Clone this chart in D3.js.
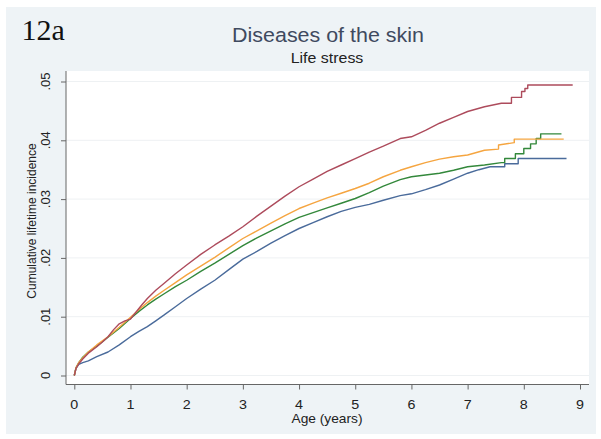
<!DOCTYPE html>
<html>
<head>
<meta charset="utf-8">
<script src="https://cdn.jsdelivr.net/npm/d3@7"></script>
<style>
  body { margin: 0; background: #fff; }
  text { font-family: "Liberation Sans", Arial, sans-serif; }
  text.figlabel { font-family: "Liberation Serif", "Times New Roman", serif; }
</style>
</head>
<body>
<div id="chart"></div>
<script>
// figure texts
var figLabel = "12a";
var chartTitle = "Diseases of the skin";
var chartSubtitle = "Life stress";
var xTitle = "Age (years)";
var yTitle = "Cumulative lifetime incidence";

// tick values / labels
var xTicks = [0, 1, 2, 3, 4, 5, 6, 7, 8, 9];
var yTicks = [0, 0.01, 0.02, 0.03, 0.04, 0.05];
var yTickLabels = ["0", ".01", ".02", ".03", ".04", ".05"];

// cumulative incidence curves, [age, incidence]
var maroonSeries = [[0,0],[0.03,0.0012],[0.08,0.0020],[0.15,0.0028],[0.25,0.0038],[0.4,0.0049],[0.5,0.0057],
  [0.6,0.0066],[0.7,0.0078],[0.8,0.0088],[0.9,0.0093],[1.0,0.0096],[1.1,0.0108],[1.2,0.0120],[1.3,0.0131],
  [1.45,0.0145],[1.6,0.0157],[1.8,0.0173],[2.0,0.0188],[2.25,0.0206],[2.5,0.0222],[2.75,0.0237],[3.0,0.0253],
  [3.25,0.0271],[3.5,0.0288],[3.75,0.0305],[4.0,0.0321],[4.25,0.0334],[4.5,0.0347],[4.75,0.0358],[5.0,0.0369],
  [5.25,0.0380],[5.5,0.0390],[5.8,0.0403],[6.0,0.0406],[6.25,0.0417],[6.5,0.0429],[6.75,0.0439],[7.0,0.0449],
  [7.3,0.0457],[7.6,0.0463],[7.78,0.0463],[7.78,0.0473],[7.96,0.0473],[7.96,0.0483],[8.02,0.0483],[8.02,0.0488],
  [8.07,0.0488],[8.07,0.0494],[8.87,0.0494]];

var orangeSeries = [[0,0],[0.03,0.0013],[0.08,0.0022],[0.15,0.0030],[0.25,0.0040],[0.4,0.0052],[0.6,0.0066],
  [0.8,0.0082],[1.0,0.0099],[1.15,0.0112],[1.3,0.0124],[1.45,0.0135],[1.6,0.0145],[1.8,0.0158],[2.0,0.0171],
  [2.25,0.0186],[2.5,0.0201],[2.75,0.0217],[3.0,0.0233],[3.25,0.0246],[3.5,0.0259],[3.75,0.0272],[4.0,0.0284],
  [4.25,0.0293],[4.5,0.0302],[4.75,0.0310],[5.0,0.0318],[5.25,0.0327],[5.5,0.0338],[5.8,0.0349],[6.0,0.0355],
  [6.25,0.0362],[6.5,0.0368],[6.75,0.0372],[7.0,0.0375],[7.3,0.0383],[7.55,0.0385],[7.55,0.0392],[7.83,0.0396],
  [7.83,0.0402],[8.71,0.0402]];

var greenSeries = [[0,0],[0.03,0.0013],[0.08,0.0022],[0.15,0.0031],[0.25,0.0040],[0.4,0.0050],[0.6,0.0065],
  [0.8,0.0080],[1.0,0.0097],[1.15,0.0109],[1.3,0.0120],[1.45,0.0130],[1.6,0.0139],[1.8,0.0151],[2.0,0.0162],
  [2.25,0.0177],[2.5,0.0191],[2.75,0.0206],[3.0,0.0221],[3.25,0.0234],[3.5,0.0246],[3.75,0.0258],[4.0,0.0269],
  [4.25,0.0277],[4.5,0.0285],[4.75,0.0293],[5.0,0.0301],[5.25,0.0311],[5.5,0.0322],[5.8,0.0333],[6.0,0.0338],
  [6.25,0.0341],[6.5,0.0344],[6.75,0.0349],[7.0,0.0355],[7.3,0.0358],[7.6,0.0362],[7.66,0.0362],[7.66,0.0369],
  [7.85,0.0369],[7.85,0.0377],[8.0,0.0377],[8.0,0.0386],[8.12,0.0386],[8.12,0.0394],[8.22,0.0394],[8.22,0.0403],
  [8.3,0.0403],[8.3,0.0411],[8.67,0.0411]];

var blueSeries = [[0,0],[0.03,0.0012],[0.08,0.0019],[0.15,0.0022],[0.25,0.0025],[0.4,0.0032],[0.6,0.0040],
  [0.8,0.0052],[1.0,0.0066],[1.15,0.0075],[1.3,0.0083],[1.45,0.0093],[1.6,0.0103],[1.8,0.0117],[2.0,0.0131],
  [2.25,0.0147],[2.5,0.0162],[2.75,0.0180],[3.0,0.0198],[3.25,0.0211],[3.5,0.0225],[3.75,0.0238],[4.0,0.0250],
  [4.25,0.0260],[4.5,0.0270],[4.75,0.0279],[5.0,0.0286],[5.25,0.0291],[5.5,0.0298],[5.8,0.0306],[6.0,0.0309],
  [6.25,0.0316],[6.5,0.0324],[6.75,0.0334],[7.0,0.0344],[7.2,0.0350],[7.4,0.0355],[7.66,0.0355],[7.66,0.0360],
  [7.9,0.0360],[7.9,0.0369],[8.76,0.0369]];

var svgWidth = 601;
var svgHeight = 439;
var stretch = 1.1; // the picture is a bit wider than tall

var svg = d3.select("#chart")
  .append("svg")
  .attr("width", svgWidth)
  .attr("height", svgHeight);

// outer graph region and white plot region
svg.append("rect")
  .attr("x", 6).attr("y", 7)
  .attr("width", 590).attr("height", 427)
  .attr("fill", "#eef3f6");

var plot = { left: 66, right: 589, top: 71, bottom: 384.5 };

svg.append("rect")
  .attr("x", plot.left).attr("y", plot.top)
  .attr("width", plot.right - plot.left).attr("height", plot.bottom - plot.top)
  .attr("fill", "#ffffff");

var xScale = d3.scaleLinear().domain([0, 9]).range([74.3, 580]);
var yScale = d3.scaleLinear().domain([0, 0.05]).range([375.5, 81.5]);

// gridlines
svg.append("g")
  .selectAll("line")
  .data(yTicks)
  .enter()
  .append("line")
  .attr("x1", plot.left).attr("x2", plot.right)
  .attr("y1", d => yScale(d)).attr("y2", d => yScale(d))
  .attr("stroke", "#eef1f3")
  .attr("stroke-width", 1);

// axes
var bottomAxis = d3.axisBottom(xScale).tickValues(xTicks).tickSize(5).tickFormat("");
var leftAxis = d3.axisLeft(yScale).tickValues(yTicks).tickSize(5).tickFormat("");

var xAxisG = svg.append("g")
  .attr("transform", `translate(0, ${plot.bottom})`)
  .call(bottomAxis);
var yAxisG = svg.append("g")
  .attr("transform", `translate(${plot.left}, 0)`)
  .call(leftAxis);

xAxisG.select(".domain").attr("d", `M${plot.left},0H${plot.right}`);
yAxisG.select(".domain").attr("d", `M0,${plot.top}V${plot.bottom}`);
[xAxisG, yAxisG].forEach(function(g) {
  g.selectAll(".domain, line").attr("stroke", "#666").attr("stroke-width", 1);
});

// x tick labels
svg.append("g")
  .selectAll("text")
  .data(xTicks)
  .enter()
  .append("text")
  .attr("transform", d => `translate(${xScale(d)}, 408.5) scale(${stretch},1)`)
  .attr("text-anchor", "middle")
  .attr("font-size", "13px")
  .attr("fill", "#222")
  .text(d => d);

// y tick labels (rotated)
svg.append("g")
  .selectAll("text")
  .data(yTicks)
  .enter()
  .append("text")
  .attr("transform", d => `translate(50, ${yScale(d)}) rotate(-90)`)
  .attr("text-anchor", "middle")
  .attr("font-size", "13px")
  .attr("fill", "#222")
  .text((d, i) => yTickLabels[i]);

// axis titles
svg.append("text")
  .attr("transform", `translate(327, 422.5) scale(${stretch},1)`)
  .attr("text-anchor", "middle")
  .attr("font-size", "12.5px")
  .attr("fill", "#222")
  .text(xTitle);

svg.append("text")
  .attr("transform", "translate(36, 221) rotate(-90)")
  .attr("text-anchor", "middle")
  .attr("font-size", "12px")
  .attr("fill", "#222")
  .text(yTitle);

// titles
svg.append("text")
  .attr("transform", `translate(328, 41.7) scale(${stretch},1)`)
  .attr("text-anchor", "middle")
  .attr("font-size", "19.5px")
  .attr("fill", "#3f4a5f")
  .text(chartTitle);

svg.append("text")
  .attr("transform", `translate(327, 63.3) scale(${stretch},1)`)
  .attr("text-anchor", "middle")
  .attr("font-size", "14.5px")
  .attr("fill", "#222")
  .text(chartSubtitle);

svg.append("text")
  .attr("class", "figlabel")
  .attr("x", 21.5).attr("y", 39.5)
  .attr("font-size", "30px")
  .attr("fill", "#111")
  .text(figLabel);

// curves
var line = d3.line()
  .x(d => xScale(d[0]))
  .y(d => yScale(d[1]));

var curves = [
  { data: blueSeries, color: "#4a6b9b" },
  { data: greenSeries, color: "#33883b" },
  { data: orangeSeries, color: "#f5a540" },
  { data: maroonSeries, color: "#ad4b5c" }
];

svg.append("g")
  .selectAll("path")
  .data(curves)
  .enter()
  .append("path")
  .attr("d", d => line(d.data))
  .attr("fill", "none")
  .attr("stroke", d => d.color)
  .attr("stroke-width", 1.4)
  .attr("stroke-linejoin", "round");
</script>
</body>
</html>
